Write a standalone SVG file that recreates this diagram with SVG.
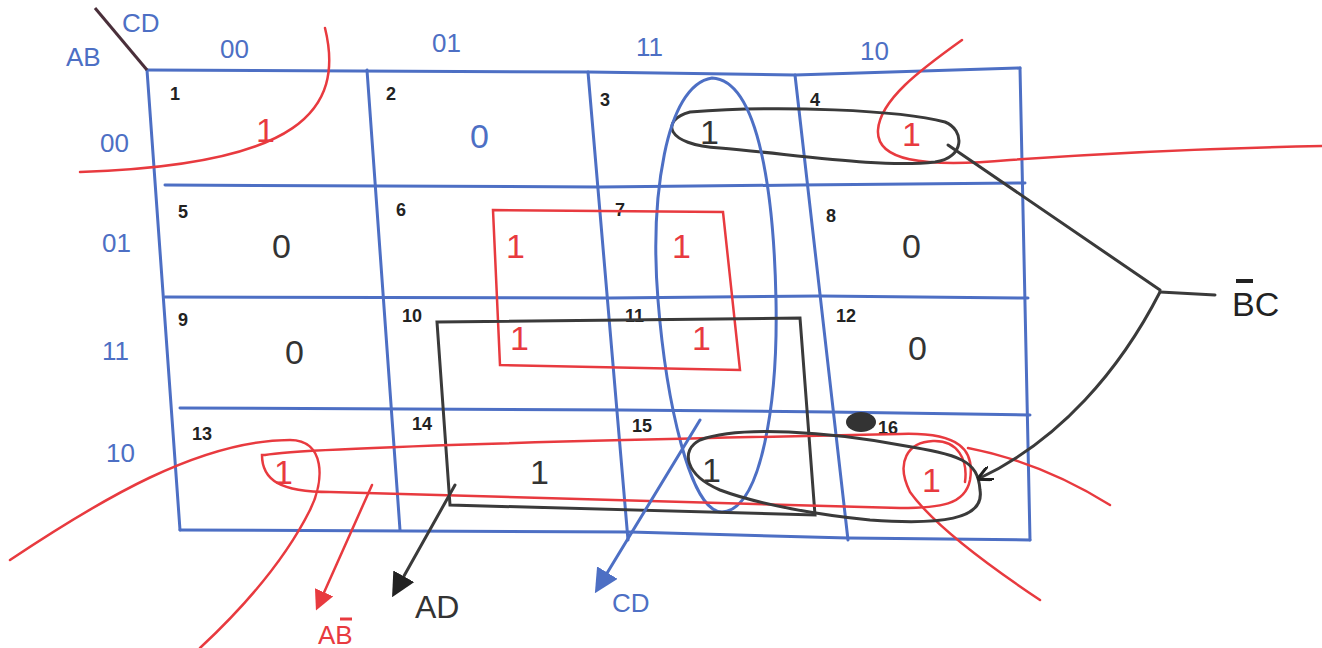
<svg xmlns="http://www.w3.org/2000/svg" width="1322" height="648" viewBox="0 0 1322 648">
<style>
.b{stroke:#4d6fc4;fill:none;stroke-width:3;stroke-linecap:round}
.r{stroke:#e83a3f;fill:none;stroke-width:2.5;stroke-linecap:round}
.k{stroke:#3a3a3a;fill:none;stroke-width:3;stroke-linecap:round}
text{font-family:"Liberation Sans","DejaVu Sans",sans-serif}
.tb{fill:#4d6fc4;font-size:26px}
.num{fill:#222;font-size:18px;font-weight:bold}
.vr{fill:#e83a3f;font-size:34px}
.vk{fill:#333;font-size:34px}
.vb{fill:#4d6fc4;font-size:34px}
</style>
<defs>
<marker id="ak" markerWidth="8" markerHeight="8" refX="6" refY="4" orient="auto" markerUnits="strokeWidth"><path d="M0,0 L8,4 L0,8 Z" fill="#222"/></marker>
<marker id="aks" markerWidth="5" markerHeight="5" refX="4" refY="2.5" orient="auto" markerUnits="strokeWidth"><path d="M0,0 L5,2.5 L0,5" fill="none" stroke="#222" stroke-width="1"/></marker>
<marker id="ar" markerWidth="8" markerHeight="8" refX="6" refY="4" orient="auto" markerUnits="strokeWidth"><path d="M0,0 L8,4 L0,8 Z" fill="#e83a3f"/></marker>
<marker id="ab" markerWidth="8" markerHeight="8" refX="6" refY="4" orient="auto" markerUnits="strokeWidth"><path d="M0,0 L8,4 L0,8 Z" fill="#4d6fc4"/></marker>
</defs>
<rect width="1322" height="648" fill="#fff"/>
<g id="grid">
<path class="b" d="M147,70 L588,72 L795,75 L1020,68"/>
<path class="b" d="M165,185 L600,187 L800,185 L1025,183"/>
<path class="b" d="M165,297 L610,298 L820,296 L1028,298"/>
<path class="b" d="M180,408 L620,410 L830,412 L1030,415"/>
<path class="b" d="M180,530 L630,532 L848,538 L1030,540"/>
<path class="b" d="M147,70 L180,530"/>
<path class="b" d="M367,70 L400,530"/>
<path class="b" d="M588,72 L628,540"/>
<path class="b" d="M795,75 L848,540"/>
<path class="b" d="M1020,68 L1030,540"/>
<path d="M95,8 L147,70" stroke="#4a2f3a" stroke-width="3" fill="none"/>
</g>
<g id="headers">
<text class="tb" x="122" y="32">CD</text>
<text class="tb" x="66" y="66">AB</text>
<text class="tb" x="220" y="58">00</text>
<text class="tb" x="432" y="52">01</text>
<text class="tb" x="636" y="56">11</text>
<text class="tb" x="860" y="60">10</text>
<text class="tb" x="100" y="152">00</text>
<text class="tb" x="102" y="252">01</text>
<text class="tb" x="102" y="360">11</text>
<text class="tb" x="106" y="462">10</text>
</g>
<g id="cells">
<text class="num" x="170" y="100">1</text>
<text class="num" x="386" y="100">2</text>
<text class="num" x="600" y="106">3</text>
<text class="num" x="810" y="106">4</text>
<text class="num" x="178" y="218">5</text>
<text class="num" x="396" y="216">6</text>
<text class="num" x="615" y="216">7</text>
<text class="num" x="826" y="222">8</text>
<text class="num" x="178" y="326">9</text>
<text class="num" x="402" y="322">10</text>
<text class="num" x="625" y="322">11</text>
<text class="num" x="836" y="322">12</text>
<text class="num" x="192" y="440">13</text>
<text class="num" x="412" y="430">14</text>
<text class="num" x="632" y="432">15</text>
<ellipse cx="861" cy="422" rx="15" ry="10" fill="#333"/>
<text class="num" x="878" y="434">16</text>
<text class="vr" x="256" y="142">1</text>
<text class="vb" x="470" y="148">0</text>
<text class="vk" x="700" y="144">1</text>
<text class="vr" x="902" y="146">1</text>
<text class="vk" x="272" y="258">0</text>
<text class="vr" x="506" y="258">1</text>
<text class="vr" x="672" y="258">1</text>
<text class="vk" x="902" y="258">0</text>
<text class="vk" x="285" y="364">0</text>
<text class="vr" x="510" y="350">1</text>
<text class="vr" x="692" y="350">1</text>
<text class="vk" x="908" y="360">0</text>
<text class="vr" x="274" y="484">1</text>
<text class="vk" x="530" y="484">1</text>
<text class="vk" x="702" y="482">1</text>
<text class="vr" x="922" y="492">1</text>
</g>
<g id="groups">
<path class="r" d="M325,28 C 345,110 300,165 80,172"/>
<path class="r" d="M962,40 C 920,70 880,100 878,130 C 876,160 920,168 1010,160 C 1120,152 1220,148 1322,146"/>
<path class="k" d="M690,112 C 660,120 665,145 720,148 C 800,155 880,168 935,162 C 965,158 965,130 945,122 C 900,110 780,105 690,112 Z"/>
<path class="b" d="M712,78 C 665,85 650,200 658,300 C 666,400 690,512 722,512 C 762,510 778,400 776,300 C 774,200 760,80 712,78 Z"/>
<path class="r" d="M493,210 L723,212 L740,370 L500,365 Z"/>
<path class="k" d="M437,322 L800,318 L815,515 L450,505 Z"/>
<path class="r" d="M265,455 C 300,448 600,440 900,434 C 960,432 975,450 970,480 C 965,505 940,508 900,508 L 330,492 C 280,492 262,480 262,455 Z"/>
<path class="r" d="M10,560 C 100,500 200,440 290,440 C 325,440 325,480 310,510 C 280,570 230,620 200,648"/>
<path class="r" d="M1040,600 C 980,560 930,520 910,492 C 895,462 908,442 933,441 C 958,440 968,460 965,482"/>
<path class="r" d="M968,448 C 1020,458 1070,480 1110,505"/>
<path class="k" d="M700,440 C 680,450 685,475 720,490 C 760,505 820,515 870,520 C 940,525 985,520 980,490 C 978,460 960,455 900,445 C 830,432 740,425 700,440 Z"/>
</g>
<g id="connectors">
<path class="k" d="M948,145 L1160,290"/>
<path class="k" d="M1160,292 C 1120,370 1060,440 980,478" marker-end="url(#aks)"/>
<path class="k" d="M1160,292 L1215,295" stroke-width="5"/>
<path class="k" d="M455,485 L395,592" marker-end="url(#ak)"/>
<path class="r" d="M372,485 L318,606" marker-end="url(#ar)"/>
<path class="b" d="M700,420 L598,588" marker-end="url(#ab)"/>
</g>
<g id="labels">
<text x="1232" y="316" fill="#222" font-size="34">BC</text>
<path d="M1236,281 L1253,281" stroke="#222" stroke-width="4"/>
<text x="415" y="618" fill="#333" font-size="32">AD</text>
<text x="318" y="644" fill="#e83a3f" font-size="26">AB</text>
<path d="M340,619 L352,619" stroke="#e83a3f" stroke-width="3"/>
<text x="612" y="612" fill="#4d6fc4" font-size="26">CD</text>
</g>
</svg>
